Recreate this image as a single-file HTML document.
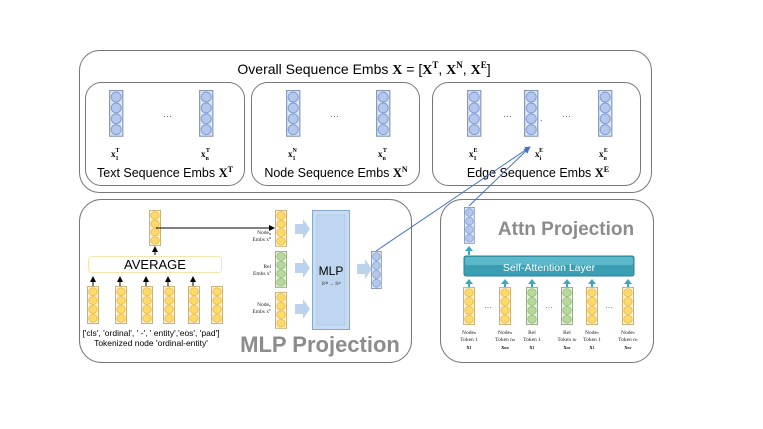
<!DOCTYPE html>
<html><head><meta charset="utf-8"><style>
body{margin:0;background:#fff}
svg{display:block;font-family:"Liberation Sans",sans-serif}
.s{font-family:"Liberation Serif",serif}
</style></head><body>
<svg width="763" height="429" viewBox="0 0 763 429" xmlns="http://www.w3.org/2000/svg">
<defs>
<g id="cb"><rect x="0.5" y="0.5" width="11" height="39" fill="#dfe8f5" stroke="#8a9ab5"/><g fill="#b3c8ec" stroke="#7f9bd2" stroke-width="0.8"><circle cx="6" cy="6" r="4.2"/><circle cx="6" cy="15.3" r="4.2"/><circle cx="6" cy="24.6" r="4.2"/><circle cx="6" cy="33.9" r="4.2"/></g></g>
<g id="cy"><rect x="0.5" y="0.5" width="11" height="39" fill="#fbf0cf" stroke="#c9b27a"/><g fill="#ffd96a" stroke="#e5b94a" stroke-width="0.8"><circle cx="6" cy="6" r="4.2"/><circle cx="6" cy="15.3" r="4.2"/><circle cx="6" cy="24.6" r="4.2"/><circle cx="6" cy="33.9" r="4.2"/></g></g>
<g id="cg"><rect x="0.5" y="0.5" width="11" height="39" fill="#e6f0dc" stroke="#9aa88c"/><g fill="#b8d99c" stroke="#8fbd72" stroke-width="0.8"><circle cx="6" cy="6" r="4.2"/><circle cx="6" cy="15.3" r="4.2"/><circle cx="6" cy="24.6" r="4.2"/><circle cx="6" cy="33.9" r="4.2"/></g></g>
<marker id="ah" markerWidth="6" markerHeight="6" refX="5" refY="3" orient="auto"><path d="M0,0L6,3L0,6z" fill="#000"/></marker>
<marker id="bh" markerWidth="6" markerHeight="6" refX="5" refY="3" orient="auto"><path d="M0,0L6,3L0,6z" fill="#4472c4"/></marker>
<g id="ba"><path d="M0,-5h8v-5l7,10l-7,10v-5h-8z" fill="#bcd3ee"/></g>
<g id="ta"><path d="M-4,4h3v4h2v-4h3l-4,-5z" fill="#3aa9c0"/></g>
</defs>

<rect x="79.5" y="50.5" width="572" height="142" rx="20" fill="#fff" stroke="#777" stroke-width="1"/>
<text x="364" y="74" font-size="14" text-anchor="middle">Overall Sequence Embs <tspan class="s" font-weight="bold">X</tspan> = [<tspan class="s" font-weight="bold">X</tspan><tspan font-size="9" dy="-6" class="s" font-weight="bold">T</tspan><tspan dy="6">, </tspan><tspan class="s" font-weight="bold">X</tspan><tspan font-size="9" dy="-6" class="s" font-weight="bold">N</tspan><tspan dy="6">, </tspan><tspan class="s" font-weight="bold">X</tspan><tspan font-size="9" dy="-6" class="s" font-weight="bold">E</tspan><tspan dy="6">]</tspan></text>

<rect x="85.5" y="82.5" width="159" height="103" rx="16" fill="#fff" stroke="#777"/>
<rect x="251.5" y="82.5" width="168" height="103" rx="16" fill="#fff" stroke="#777"/>
<rect x="432.5" y="82.5" width="208" height="103" rx="16" fill="#fff" stroke="#777"/>

<g transform="translate(109,90) scale(1.2,1.17)"><use href="#cb"/></g>
<g transform="translate(199,90) scale(1.2,1.17)"><use href="#cb"/></g>
<g transform="translate(286,90) scale(1.2,1.17)"><use href="#cb"/></g>
<g transform="translate(376,90) scale(1.2,1.17)"><use href="#cb"/></g>
<g transform="translate(467,90) scale(1.2,1.17)"><use href="#cb"/></g>
<g transform="translate(524,90) scale(1.2,1.17)"><use href="#cb"/></g>
<g transform="translate(598,90) scale(1.2,1.17)"><use href="#cb"/></g>
<g font-size="9" fill="#555"><text x="163" y="119">···</text><text x="330" y="119">···</text><text x="503" y="119">···</text><text x="562" y="119">···</text><text x="540" y="121">.</text></g>
<g class="s" font-size="9" font-weight="bold">
<text x="111" y="157">x<tspan font-size="6" dy="3">1</tspan><tspan font-size="6" dx="-3" dy="-8">T</tspan></text>
<text x="201" y="157">x<tspan font-size="6" dy="3">n</tspan><tspan font-size="6" dx="-3" dy="-8">T</tspan></text>
<text x="288" y="157">x<tspan font-size="6" dy="3">1</tspan><tspan font-size="6" dx="-3" dy="-8">N</tspan></text>
<text x="378" y="157">x<tspan font-size="6" dy="3">n</tspan><tspan font-size="6" dx="-3" dy="-8">T</tspan></text>
<text x="469" y="157">x<tspan font-size="6" dy="3">1</tspan><tspan font-size="6" dx="-3" dy="-8">E</tspan></text>
<text x="535" y="157">x<tspan font-size="6" dy="3">i</tspan><tspan font-size="6" dx="-2" dy="-8">E</tspan></text>
<text x="599" y="157">x<tspan font-size="6" dy="3">n</tspan><tspan font-size="6" dx="-3" dy="-8">E</tspan></text>
</g>
<text x="165" y="177" font-size="12.5" text-anchor="middle">Text Sequence Embs <tspan class="s" font-weight="bold">X</tspan><tspan class="s" font-weight="bold" font-size="8" dy="-5">T</tspan></text>
<text x="336" y="177" font-size="12.5" text-anchor="middle">Node Sequence Embs <tspan class="s" font-weight="bold">X</tspan><tspan class="s" font-weight="bold" font-size="8" dy="-5">N</tspan></text>
<text x="538" y="177" font-size="12.5" text-anchor="middle">Edge Sequence Embs <tspan class="s" font-weight="bold">X</tspan><tspan class="s" font-weight="bold" font-size="8" dy="-5">E</tspan></text>

<rect x="79.5" y="199.5" width="332" height="163" rx="22" fill="#fff" stroke="#777"/>
<g transform="translate(149,210) scale(1,0.9)"><use href="#cy"/></g>
<rect x="88.5" y="256.5" width="133" height="16" rx="3" fill="#fff" stroke="#f5e6b0"/>
<text x="155" y="269" font-size="13" text-anchor="middle">AVERAGE</text>
<line x1="155" y1="255" x2="155" y2="247" stroke="#000" marker-end="url(#ah)"/>
<g stroke="#000" marker-end="url(#ah)">
<line x1="93" y1="286" x2="93" y2="277"/><line x1="120" y1="286" x2="120" y2="277"/><line x1="146" y1="286" x2="146" y2="277"/><line x1="168" y1="286" x2="168" y2="277"/><line x1="193" y1="286" x2="193" y2="277"/>
</g>
<g transform="translate(87,286) scale(1,0.95)"><use href="#cy"/></g>
<g transform="translate(115,286) scale(1,0.95)"><use href="#cy"/></g>
<g transform="translate(141,286) scale(1,0.95)"><use href="#cy"/></g>
<g transform="translate(163,286) scale(1,0.95)"><use href="#cy"/></g>
<g transform="translate(188,286) scale(1,0.95)"><use href="#cy"/></g>
<g transform="translate(211,286) scale(1,0.95)"><use href="#cy"/></g>
<text x="151" y="336" font-size="8.5" text-anchor="middle">['cls', 'ordinal', ' -', ' entity','eos', 'pad']</text>
<text x="151" y="346" font-size="8.5" text-anchor="middle">Tokenized node 'ordinal-entity'</text>
<line x1="156" y1="228" x2="274" y2="228" stroke="#000" marker-end="url(#ah)"/>
<g font-size="5.5" class="s" text-anchor="end" fill="#222">
<text x="271" y="234">Node<tspan font-size="4" dy="1">u</tspan></text><text x="271" y="241">Embs x<tspan font-size="4" dy="-2">u</tspan></text>
<text x="271" y="268">Rel</text><text x="271" y="275">Embs x<tspan font-size="4" dy="-2">r</tspan></text>
<text x="271" y="306">Node<tspan font-size="4" dy="1">v</tspan></text><text x="271" y="313">Embs x<tspan font-size="4" dy="-2">v</tspan></text>
</g>
<g transform="translate(275,210) scale(1,0.92)"><use href="#cy"/></g>
<g transform="translate(275,251) scale(1,0.92)"><use href="#cg"/></g>
<g transform="translate(275,292) scale(1,0.92)"><use href="#cy"/></g>
<use href="#ba" x="295" y="229"/><use href="#ba" x="295" y="268"/><use href="#ba" x="295" y="309"/>
<rect x="312.5" y="210.5" width="37" height="119" fill="#c6dcf3" stroke="#8aa6c8"/>
<rect x="317" y="215" width="28" height="110" fill="#bed6f0" stroke="#a9c3e0" stroke-width="0.6"/>
<text x="331" y="275" font-size="12" text-anchor="middle">MLP</text>
<text x="331" y="285" font-size="4.5" text-anchor="middle" fill="#333">ℝ³ᵈ → ℝᵈ</text>
<use href="#ba" x="357" y="269"/>
<g transform="translate(371,251) scale(0.9,0.95)"><use href="#cb"/></g>
<text x="320" y="352" font-size="22" font-weight="bold" fill="#8c8c8c" text-anchor="middle">MLP Projection</text>

<rect x="440.5" y="199.5" width="213" height="163" rx="22" fill="#fff" stroke="#777"/>
<g transform="translate(464,207) scale(0.9,0.92)"><use href="#cb"/></g>
<text x="566" y="235" font-size="19" font-weight="bold" fill="#8c8c8c" text-anchor="middle">Attn Projection</text>
<use href="#ta" x="469" y="247"/>
<rect x="464" y="256" width="170" height="20" rx="2" fill="#3a9fb3" stroke="#2d8093"/>
<rect x="465" y="257" width="168" height="8" rx="2" fill="#5bb9cb"/>
<text x="549" y="271" font-size="10.5" fill="#fff" text-anchor="middle">Self-Attention Layer</text>
<use href="#ta" x="469" y="280"/><use href="#ta" x="505" y="280"/><use href="#ta" x="532" y="280"/><use href="#ta" x="567" y="280"/><use href="#ta" x="592" y="280"/><use href="#ta" x="628" y="280"/>
<g transform="translate(463,287) scale(1,0.95)"><use href="#cy"/></g>
<g transform="translate(499,287) scale(1,0.95)"><use href="#cy"/></g>
<g transform="translate(526,287) scale(1,0.95)"><use href="#cg"/></g>
<g transform="translate(561,287) scale(1,0.95)"><use href="#cg"/></g>
<g transform="translate(586,287) scale(1,0.95)"><use href="#cy"/></g>
<g transform="translate(622,287) scale(1,0.95)"><use href="#cy"/></g>
<g font-size="8" fill="#555"><text x="484" y="310">···</text><text x="545" y="310">···</text><text x="605" y="310">···</text></g>
<g class="s" font-size="5.5" text-anchor="middle" fill="#222">
<text x="469" y="334">Node<tspan font-size="4">u</tspan></text><text x="469" y="341">Token 1</text>
<text x="505" y="334">Node<tspan font-size="4">u</tspan></text><text x="505" y="341">Token n<tspan font-size="4">u</tspan></text>
<text x="532" y="334">Rel</text><text x="532" y="341">Token 1</text>
<text x="567" y="334">Rel</text><text x="567" y="341">Token n<tspan font-size="4">r</tspan></text>
<text x="592" y="334">Node<tspan font-size="4">v</tspan></text><text x="592" y="341">Token 1</text>
<text x="628" y="334">Node<tspan font-size="4">v</tspan></text><text x="628" y="341">Token n<tspan font-size="4">v</tspan></text>
<g font-weight="bold" font-size="6"><text x="469" y="349">x<tspan font-size="4">1</tspan></text><text x="505" y="349">x<tspan font-size="4">nu</tspan></text><text x="532" y="349">x<tspan font-size="4">1</tspan></text><text x="567" y="349">x<tspan font-size="4">nr</tspan></text><text x="592" y="349">x<tspan font-size="4">1</tspan></text><text x="628" y="349">x<tspan font-size="4">nv</tspan></text></g>
</g>

<line x1="376" y1="251" x2="530" y2="147" stroke="#4472c4" stroke-width="1" marker-end="url(#bh)"/>
<line x1="469" y1="206" x2="529" y2="148" stroke="#4472c4" stroke-width="1" marker-end="url(#bh)"/>
</svg>
</body></html>
